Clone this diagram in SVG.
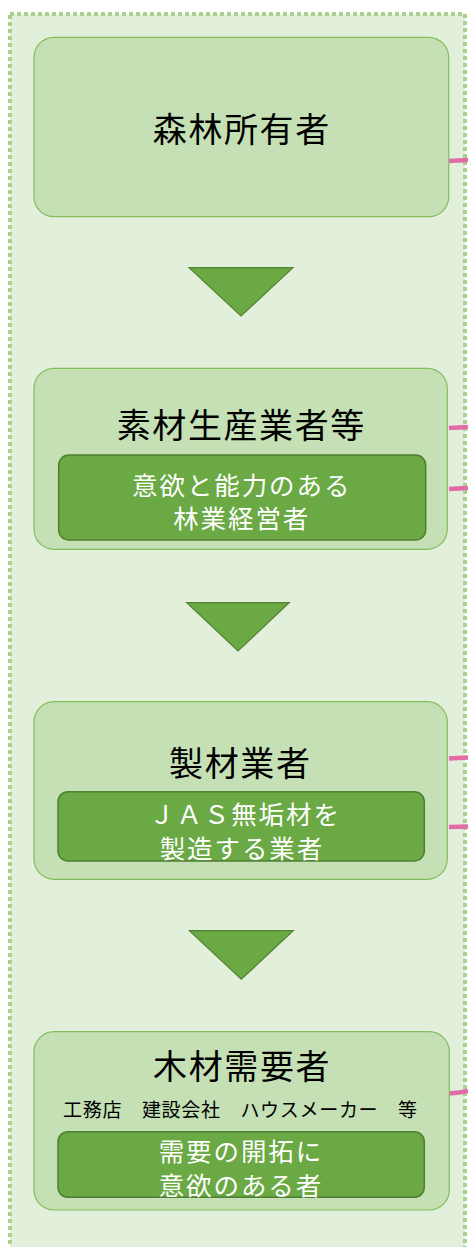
<svg xmlns="http://www.w3.org/2000/svg" width="468" height="1247" viewBox="0 0 468 1247">
<style>
.bg{fill:#e2efda;stroke:#a9d18e;stroke-width:4;stroke-dasharray:4 3}
.box{fill:#c5e0b4;stroke:#82bd5e;stroke-width:1.2}
.inner{fill:#6aa943;stroke:#4f7f32;stroke-width:1.5}
.tri{fill:#6aa943;stroke:#548235;stroke-width:1.2}
.pink{fill:none;stroke:#e36aa8;stroke-width:4.5}
text{font-family:"Noto Sans CJK JP","Noto Sans CJK SC",sans-serif;text-anchor:middle;dominant-baseline:central}
.title{font-size:34px;fill:#000;letter-spacing:1.6px}
.wt{font-size:25.5px;fill:#fff;letter-spacing:1.9px}
.sub{font-size:19px;fill:#000;letter-spacing:0.7px}
</style>
<rect class="bg" x="10" y="14" width="455" height="1245"/>
<g id="connectors">
<path class="pink" d="M449 161 L468 160"/>
<path class="pink" d="M449 428 L468 427"/>
<path class="pink" d="M449 489 L468 488"/>
<path class="pink" d="M449 758.5 L468 757.5"/>
<path class="pink" d="M449 827 L468 826.5"/>
<path class="pink" d="M449 1093.5 Q460 1093 468 1091"/>
<polygon class="tri" points="189,267.7 293,267.7 241,316"/>
<polygon class="tri" points="186.7,602.7 289.3,602.7 238,651"/>
<polygon class="tri" points="189.3,930.7 293.3,930.7 241.3,979.3"/>
</g>
<g id="node1">
<rect class="box" x="34" y="37.3" width="414.7" height="179.4" rx="20"/>
<text class="title" x="241.8" y="127.5">森林所有者</text>
</g>
<g id="node2">
<rect class="box" x="34" y="368.3" width="413.3" height="181" rx="20"/>
<text class="title" x="241.3" y="423.7">素材生産業者等</text>
<rect class="inner" x="58.7" y="455" width="367" height="85" rx="10"/>
<text class="wt"><tspan x="241.7" y="482.5">意欲と能力のある</tspan><tspan x="241.7" y="516">林業経営者</tspan></text>
</g>
<g id="node3">
<rect class="box" x="34" y="701.7" width="413.3" height="177.6" rx="20"/>
<text class="title" x="240.3" y="761.5">製材業者</text>
<rect class="inner" x="58" y="791.7" width="366.3" height="69.3" rx="10"/>
<text class="wt"><tspan x="244.9" y="812.3">ＪＡＳ無垢材を</tspan><tspan x="241.9" y="845.7">製造する業者</tspan></text>
</g>
<g id="node4">
<rect class="box" x="34" y="1031.7" width="415.3" height="178.3" rx="20"/>
<text class="title" x="242.1" y="1064">木材需要者</text>
<text class="sub" x="240.4" y="1108">工務店　建設会社　ハウスメーカー　等</text>
<rect class="inner" x="58" y="1131.7" width="366.3" height="65.6" rx="10"/>
<text class="wt"><tspan x="240.9" y="1149">需要の開拓に</tspan><tspan x="240.9" y="1182.5">意欲のある者</tspan></text>
</g>
</svg>
